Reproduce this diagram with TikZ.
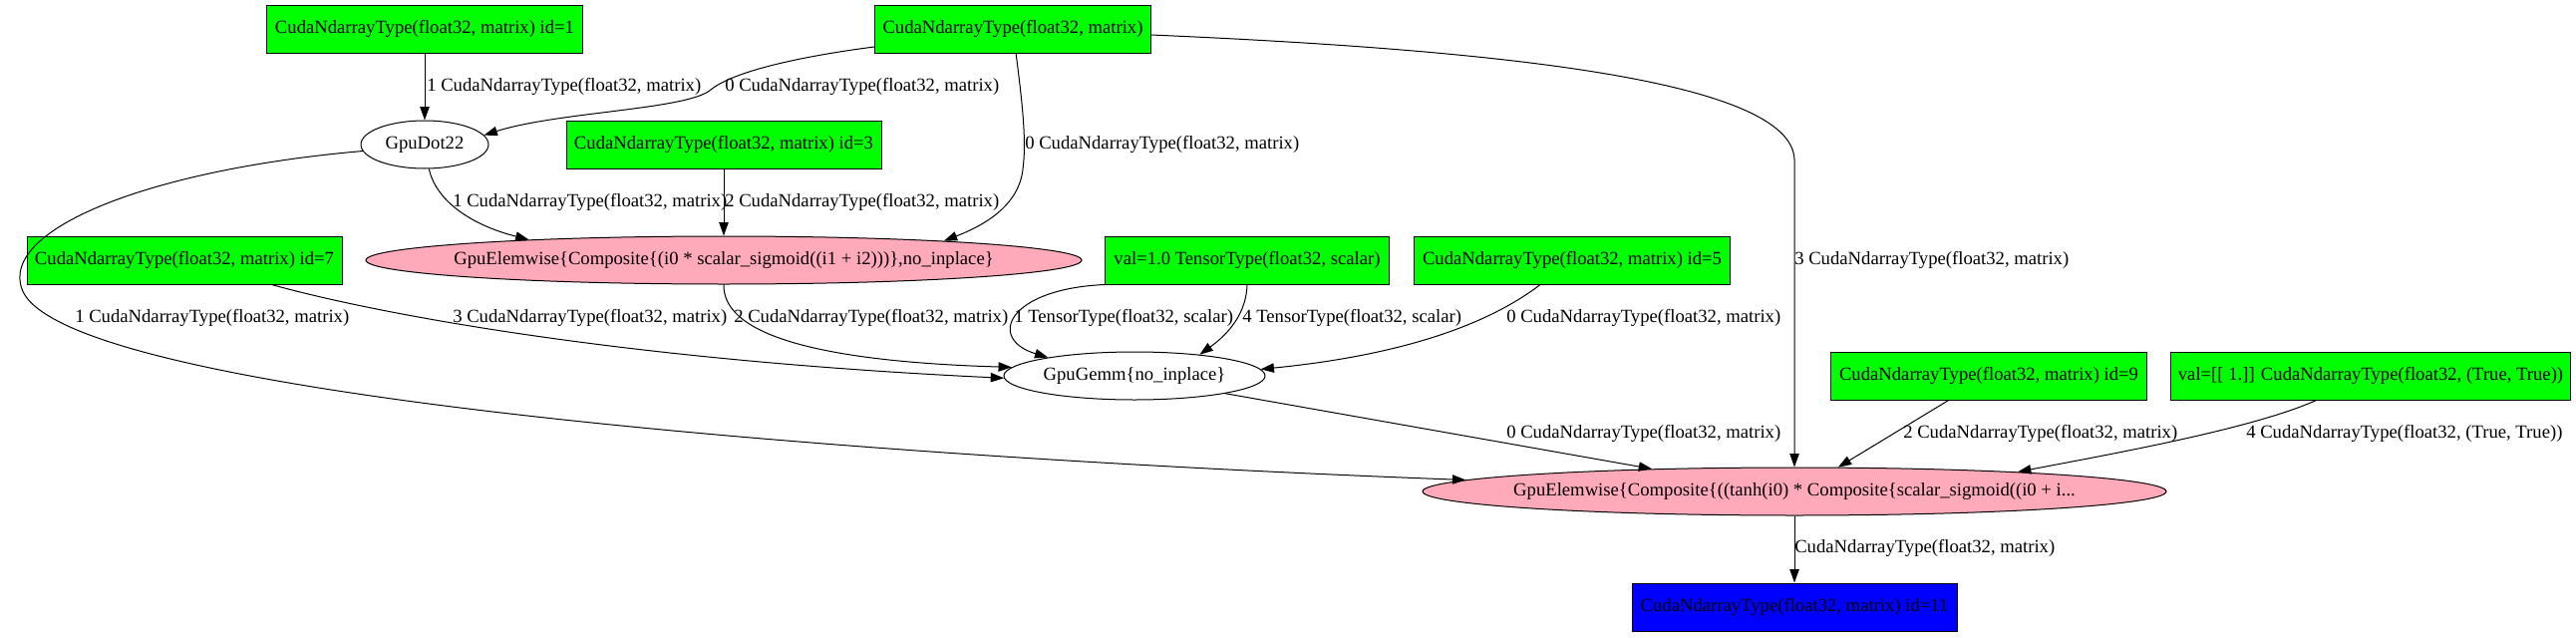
\documentclass[tikz,border=0pt]{standalone}
\usepackage{fontspec}
\setmainfont{Liberation Serif}
\usetikzlibrary{arrows.meta,shapes.geometric}
\definecolor{gvgreen}{HTML}{00FF00}
\definecolor{gvpink}{HTML}{FFAABB}
\definecolor{gvblue}{HTML}{0000FF}
\newcommand{\zerow}[1]{\makebox[0pt][c]{#1}}
\begin{document}
\begin{tikzpicture}[x=0.75pt,y=-0.75pt,
  font=\fontsize{14pt}{16pt}\selectfont,
  box/.style={draw, fill=gvgreen, line width=0.75pt, minimum width=#1*0.75pt, minimum height=36pt, inner sep=1pt},
  outbox/.style={draw, fill=gvblue, line width=0.75pt, minimum width=#1*0.75pt, minimum height=36pt, inner sep=1pt},
  ell/.style={ellipse, draw, line width=0.75pt, minimum width=#1*0.75pt, minimum height=36pt, inner sep=0pt},
  edge/.style={draw, line width=0.75pt, -{Triangle[length=10pt,width=7pt]}},
  lab/.style={anchor=west, inner sep=0pt}]
\useasboundingbox (0,0) rectangle (2584,639);

% nodes
\node[box=317] (id1) at (426,29) {CudaNdarrayType(float32, matrix) id=1};
\node[box=277] (T) at (1016,29) {CudaNdarrayType(float32, matrix)};
\node[ell=128] (dot) at (426,145) {\zerow{GpuDot22}};
\node[box=316] (id3) at (726,145) {CudaNdarrayType(float32, matrix) id=3};
\node[ell=718, fill=gvpink] (E1) at (726,261) {\zerow{GpuElemwise\{Composite\{(i0 * scalar\_sigmoid((i1 + i2)))\},no\_inplace\}}};
\node[box=316] (id7) at (185,261) {CudaNdarrayType(float32, matrix) id=7};
\node[box=285] (val1) at (1251,261) {val=1.0 TensorType(float32, scalar)};
\node[box=317] (id5) at (1577,261) {CudaNdarrayType(float32, matrix) id=5};
\node[ell=262] (gemm) at (1138,377) {\zerow{GpuGemm\{no\_inplace\}}};
\node[box=317] (id9) at (1995,377) {CudaNdarrayType(float32, matrix) id=9};
\node[box=401] (valTT) at (2378,377) {val=[[ 1.]] CudaNdarrayType(float32, (True, True))};
\node[ell=746, fill=gvpink] (E2) at (1800,493) {\zerow{GpuElemwise\{Composite\{((tanh(i0) * Composite\{scalar\_sigmoid((i0 + i...}};
\node[outbox=326] (out) at (1800,609) {CudaNdarrayType(float32, matrix) id=11};

% edges
\draw[edge] (id1) -- (dot);
\draw[edge] (T) .. controls (800,57) and (735,72) .. (713,90) .. controls (690,110) and (560,112) .. (dot.9);
\draw[edge] (T) .. controls (1025,100) and (1030,140) .. (1026,170) .. controls (1022,205) and (990,225) .. (E1.5.4);
\draw[edge] (dot.-80) .. controls (437,200) and (470,225) .. (E1.174);
\draw[edge] (id3) -- (E1);
\draw[edge] (T) .. controls (1500,50) and (1797,80) .. (1800,160) -- (E2.north);
\draw[edge] (dot.-174) .. controls (150,170) and (0,230) .. (22,290) .. controls (62,400) and (900,460) .. (E2.178.2);
\draw[edge] (id7) .. controls (360,310) and (600,360) .. (gemm.181);
\draw[edge] (E1.-90) .. controls (725,330) and (800,362) .. (gemm.176);
\draw[edge] (val1.south west) .. controls (1010,290) and (990,340) .. (gemm.168);
\draw[edge] (val1.south) .. controls (1250,320) and (1225,340) .. (gemm.18);
\draw[edge] (id5) .. controls (1500,320) and (1420,355) .. (gemm.3);
\draw[edge] (gemm.-11) -- (E2.171);
\draw[edge] (id9) -- (E2.29);
\draw[edge] (valTT) .. controls (2260,430) and (2120,455) .. (E2.5);
\draw[edge] (E2) -- (out);

% labels
\node[lab] (l1) at (428,87) {1 CudaNdarrayType(float32, matrix)};
\node[lab] (l2) at (727,87) {0 CudaNdarrayType(float32, matrix)};
\node[lab] (l3) at (1028,145) {0 CudaNdarrayType(float32, matrix)};
\node[lab] (l4) at (454,203) {1 CudaNdarrayType(float32, matrix)};
\node[lab] (l5) at (727,203) {2 CudaNdarrayType(float32, matrix)};
\node[lab] (l6) at (1800,261) {3 CudaNdarrayType(float32, matrix)};
\node[lab] (l7) at (75,319) {1 CudaNdarrayType(float32, matrix)};
\node[lab] (l8) at (454,319) {3 CudaNdarrayType(float32, matrix)};
\node[lab] (l9) at (736,319) {2 CudaNdarrayType(float32, matrix)};
\node[lab] (l10) at (1017,319) {1 TensorType(float32, scalar)};
\node[lab] (l11) at (1246,319) {4 TensorType(float32, scalar)};
\node[lab] (l12) at (1511,319) {0 CudaNdarrayType(float32, matrix)};
\node[lab] (l13) at (1511,435) {0 CudaNdarrayType(float32, matrix)};
\node[lab] (l14) at (1909,435) {2 CudaNdarrayType(float32, matrix)};
\node[lab] (l15) at (2253,435) {4 CudaNdarrayType(float32, (True, True))};
\node[lab] (l16) at (1800,550) {CudaNdarrayType(float32, matrix)};
\end{tikzpicture}
\end{document}
